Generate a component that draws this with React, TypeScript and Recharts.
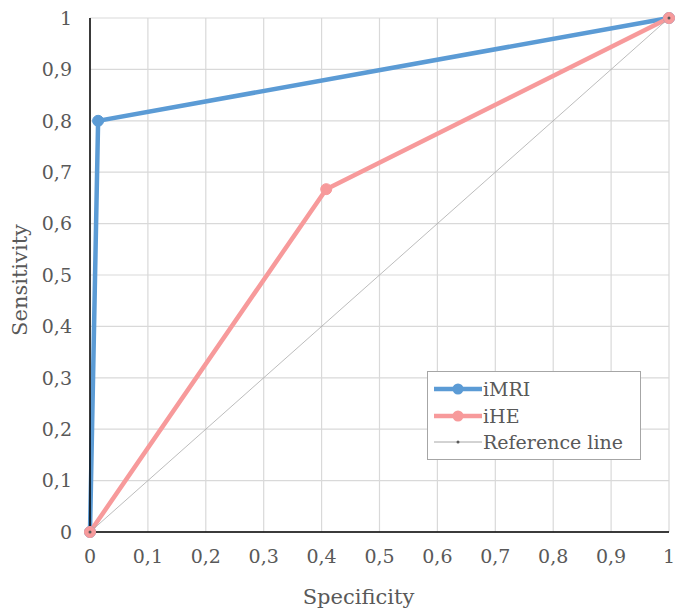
import React from 'react';
import { LineChart, Line, XAxis, YAxis, CartesianGrid, Label } from 'recharts';

const ticks = [0, 0.1, 0.2, 0.3, 0.4, 0.5, 0.6, 0.7, 0.8, 0.9, 1];
const imriData = [
  { x: 0, y: 0 },
  { x: 0.014, y: 0.8 },
  { x: 1, y: 1 },
];
const iheData = [
  { x: 0, y: 0 },
  { x: 0.408, y: 0.667 },
  { x: 1, y: 1 },
];
const refData = [
  { x: 0, y: 0 },
  { x: 1, y: 1 },
];

const BLUE = '#5b9bd5';
const PINK = '#f79a9b';
const GRAY = '#a6a6a6';
const FONT = '"DejaVu Serif", serif';
const TEXT = '#595959';

const fmt = (v: number) => String(Math.round(v * 10) / 10).replace('.', ',');

const legendItems = [
  { name: 'iMRI', color: BLUE, w: 4.5, r: 5.5 },
  { name: 'iHE', color: PINK, w: 4.5, r: 5.5 },
  { name: 'Reference line', color: GRAY, w: 1, r: 1.5, dot: '#595959' },
];

const LegendBox = () => (
  <div
    style={{
      position: 'absolute',
      left: 427,
      top: 371,
      width: 214,
      height: 89,
      border: '1px solid #a6a6a6',
      background: '#fff',
      boxSizing: 'border-box',
      padding: '4px 0 0 6px',
      fontFamily: FONT,
      fontSize: 19,
      color: TEXT,
    }}
  >
    {legendItems.map((it) => (
      <div key={it.name} style={{ display: 'flex', alignItems: 'center', height: 26.5 }}>
        <svg width={48} height={14} style={{ marginRight: 1 }}>
          <line x1={0} y1={7} x2={48} y2={7} stroke={it.color} strokeWidth={it.w} />
          <circle cx={24} cy={7} r={it.r} fill={it.dot || it.color} />
        </svg>
        <span>{it.name}</span>
      </div>
    ))}
  </div>
);

export default function App() {
  return (
    <div style={{ position: 'absolute', left: 0, top: 0, width: 688, height: 616 }}>
      <LineChart
        width={688}
        height={616}
        margin={{ top: 18, right: 19, left: 30, bottom: 34 }}
      >
        <CartesianGrid stroke="#d9d9d9" strokeWidth={1.2} horizontalValues={ticks} verticalValues={ticks} />
        <XAxis
          type="number"
          dataKey="x"
          domain={[0, 1]}
          ticks={ticks}
          tickFormatter={fmt}
          height={50}
          tickLine={false}
          tickSize={0}
          tickMargin={18}
          axisLine={{ stroke: '#000', strokeWidth: 1.5 }}
          tick={{ fill: TEXT, fontFamily: FONT, fontSize: 19 }}
        >
          <Label
            value="Specificity"
            position="insideBottom"
            offset={-22}
            dx={-21}
            style={{ fill: TEXT, fontFamily: FONT, fontSize: 21 }}
          />
        </XAxis>
        <YAxis
          type="number"
          dataKey="y"
          domain={[0, 1]}
          ticks={ticks}
          tickFormatter={fmt}
          width={60}
          tickLine={false}
          tickSize={0}
          tickMargin={18}
          axisLine={{ stroke: '#000', strokeWidth: 1.5 }}
          tick={{ fill: TEXT, fontFamily: FONT, fontSize: 19 }}
        >
          <Label
            value="Sensitivity"
            angle={-90}
            position="insideLeft"
            offset={-12}
            dx={2}
            dy={5}
            style={{ fill: TEXT, fontFamily: FONT, fontSize: 21, textAnchor: 'middle' }}
          />
        </YAxis>
        <Line
          data={imriData}
          dataKey="y"
          name="iMRI"
          stroke={BLUE}
          strokeWidth={4.5}
          dot={{ r: 5.5, fill: BLUE, stroke: BLUE, strokeWidth: 1 }}
          isAnimationActive={false}
        />
        <Line
          data={iheData}
          dataKey="y"
          name="iHE"
          stroke={PINK}
          strokeWidth={4.5}
          dot={{ r: 5.5, fill: PINK, stroke: PINK, strokeWidth: 1 }}
          isAnimationActive={false}
        />
        <Line
          data={refData}
          dataKey="y"
          name="Reference line"
          stroke={GRAY}
          strokeWidth={0.75}
          dot={{ r: 1.5, fill: '#595959', stroke: 'none' }}
          isAnimationActive={false}
        />
      </LineChart>
      <LegendBox />
    </div>
  );
}
